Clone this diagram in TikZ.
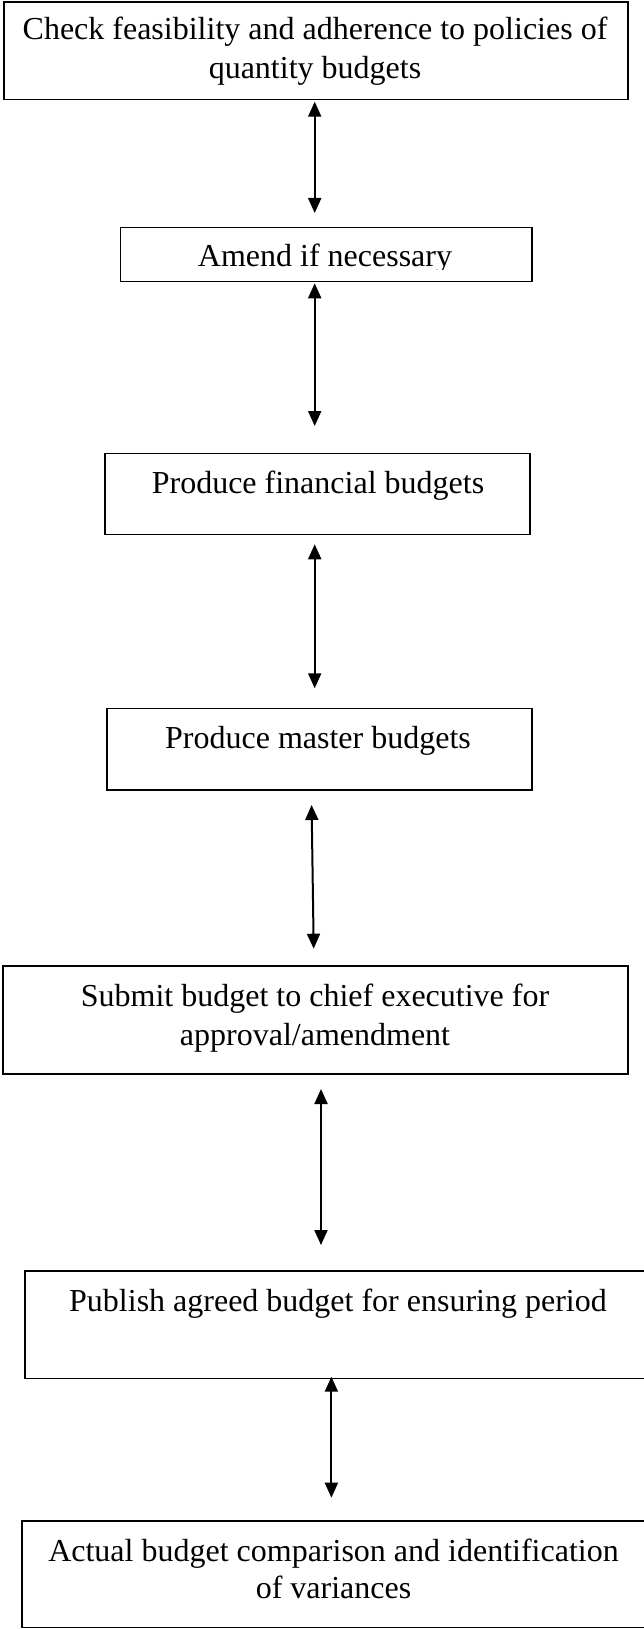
\documentclass[tikz,border=0pt]{standalone}
\usepackage{fontspec}
\setmainfont{Liberation Serif}
\usetikzlibrary{arrows.meta}
\begin{document}
\begin{tikzpicture}[x=1pt,y=-1pt,
  box/.style={draw=black,line width=1.4pt,rectangle,inner sep=0pt},
  label/.style={inner sep=0pt,anchor=base,align=center,
    font=\fontsize{32}{39}\selectfont},
  link/.style={line width=2pt,
    {Triangle[length=15pt,width=13pt]}-{Triangle[length=15pt,width=13pt]}}]
\useasboundingbox (0,0) rectangle (644,1629);

% boxes
\node[box,minimum width=624pt,minimum height=97.3pt] (b1) at (316,50.65) {};
\node[box,minimum width=411.3pt,minimum height=54pt] (b2) at (326.15,254.7) {};
\node[box,minimum width=425pt,minimum height=80.6pt] (b3) at (317.5,494) {};
\node[box,minimum width=425pt,minimum height=81.3pt] (b4) at (319.5,749.35) {};
\node[box,minimum width=625pt,minimum height=108pt] (b5) at (315.5,1020) {};
\node[box,minimum width=625pt,minimum height=107.3pt] (b6) at (337.5,1324.65) {};
\node[box,minimum width=628pt,minimum height=106.7pt] (b7) at (336,1574.35) {};

% texts (base anchor sits on the last line)
\node[label] (t1) at (315,79) {Check feasibility and adherence to policies of\\quantity budgets};
\begin{scope}
  \clip (120,227) rectangle (532,269.5);
  \node[label] (t2) at (325,266.7) {Amend if necessary};
\end{scope}
\node[label] (t3) at (318,493.3) {Produce financial budgets};
\node[label] (t4) at (318,748.3) {Produce master budgets};
\node[label] (t5) at (315,1045.7) {Submit budget to chief executive for\\approval/amendment};
\node[label] (t6) at (338,1311) {Publish agreed budget for ensuring period};
\node[label,font=\fontsize{32}{36.6}\selectfont] (t7) at (333.5,1598.3) {Actual budget comparison and identification\\of variances};

% connector ends
\coordinate (a1u) at (314.7,101.7);  \coordinate (a1d) at (314.7,213);
\coordinate (a2u) at (314.7,283.3);  \coordinate (a2d) at (314.7,426);
\coordinate (a3u) at (314.7,544.3);  \coordinate (a3d) at (314.7,688.3);
\coordinate (a4u) at (311.6,805);    \coordinate (a4d) at (313.7,948.7);
\coordinate (a5u) at (321,1089);     \coordinate (a5d) at (321,1245);
\coordinate (a6u) at (331.4,1376.7); \coordinate (a6d) at (331.4,1497.7);

% two-way connectors
\draw[link] (a1u) -- (a1d);
\draw[link] (a2u) -- (a2d);
\draw[link] (a3u) -- (a3d);
\draw[link] (a4u) -- (a4d);
\draw[link] (a5u) -- (a5d);
\draw[link] (a6u) -- (a6d);
\end{tikzpicture}
\end{document}
